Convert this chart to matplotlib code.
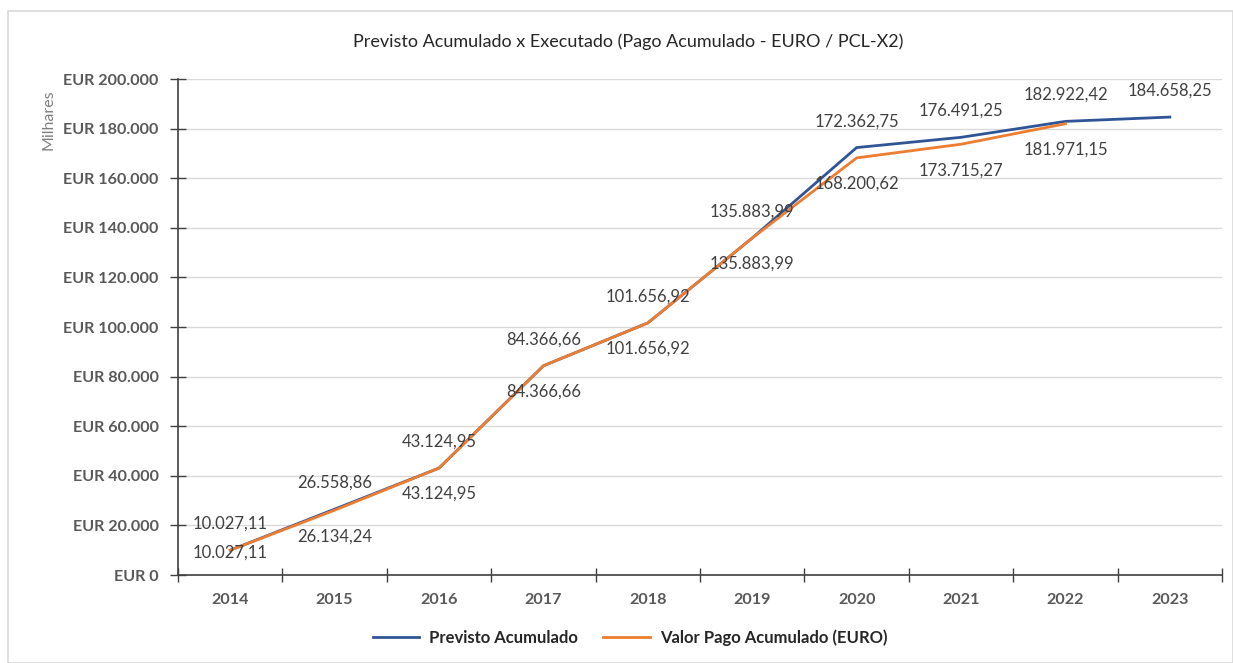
import matplotlib.pyplot as plt
import matplotlib.patches as mpatches
from matplotlib.ticker import FuncFormatter, MultipleLocator
import numpy as np

plt.rcParams['font.family'] = ['Lato', 'DejaVu Sans']

years = ['2014', '2015', '2016', '2017', '2018', '2019', '2020', '2021', '2022', '2023']
previsto = [10027.11, 26558.86, 43124.95, 84366.66, 101656.92, 135883.99,
            172362.75, 176491.25, 182922.42, 184658.25]
pago = [10027.11, 26134.24, 43124.95, 84366.66, 101656.92, 135883.99,
        168200.62, 173715.27, 181971.15]

blue = '#2F5597'
orange = '#ED7D31'
label_col = '#404040'
tick_col = '#595959'


def br(v, dec=2):
    # portuguese number format: 1.234,56
    s = f'{v:,.{dec}f}'
    return s.replace(',', 'X').replace('.', ',').replace('X', '.')


fig = plt.figure(figsize=(12.33, 6.63), dpi=100)
ax = fig.add_axes([0.1444, 0.1327, 0.8467, 0.7481])

# chart area border
fig.patches.append(mpatches.Rectangle((8 / 1233, 0), 1 - 8 / 1233, 1 - 11 / 663,
                                      transform=fig.transFigure, fill=False,
                                      edgecolor='#D9D9D9', linewidth=1.2))

x_prev = np.arange(len(previsto))
x_pago = np.arange(len(pago))
ax.plot(x_prev, previsto, color=blue, lw=2, label='Previsto Acumulado', zorder=3)
ax.plot(x_pago, pago, color=orange, lw=2, label='Valor Pago Acumulado (EURO)', zorder=4)

ax.set_xlim(-0.5, len(years) - 0.5)
ax.set_ylim(0, 200000)

# labels 26px above / below the point, kept inside the plot area
ypix = 663 * 0.7481 / 200000  # pixels per unit
for x, v in zip(x_prev, previsto):
    ax.annotate(br(v), (x, v), xytext=(0, 19), textcoords='offset points',
                ha='center', va='center', fontsize=12, color=label_col, zorder=5)
for x, v in zip(x_pago, pago):
    off = min(26, v * ypix - 22)
    ax.annotate(br(v), (x, v), xytext=(0, -off * 0.72), textcoords='offset points',
                ha='center', va='center', fontsize=12, color=label_col, zorder=5)

ax.yaxis.set_major_locator(MultipleLocator(20000))
ax.yaxis.set_major_formatter(FuncFormatter(lambda v, p: 'EUR ' + br(v, 0)))
ax.set_xticks(np.arange(len(years)))
ax.set_xticklabels(years)
ax.set_xticks(np.arange(-0.5, len(years)), minor=True)
ax.tick_params(axis='x', which='major', length=0, pad=13)
ax.tick_params(axis='x', which='minor', direction='inout', length=10, width=1, color='#404040')
ax.tick_params(axis='y', direction='inout', length=12, width=1, color='#404040', pad=8)
for lab in ax.get_xticklabels() + ax.get_yticklabels():
    lab.set_fontweight('bold')
    lab.set_color(tick_col)
    lab.set_fontsize(11.6)

ax.grid(axis='y', color='#D9D9D9', lw=1)
ax.set_axisbelow(True)
for s in ['top', 'right']:
    ax.spines[s].set_visible(False)
for s in ['left', 'bottom']:
    ax.spines[s].set_color('#404040')
    ax.spines[s].set_linewidth(1.2)

fig.text(48 / 1233, 1 - 120 / 663, 'Milhares', rotation=90, ha='center', va='center',
         fontsize=11.5, color='#808080')
fig.text(628 / 1233, 1 - 42 / 663, 'Previsto Acumulado x Executado (Pago Acumulado - EURO / PCL-X2)',
         ha='center', va='center', fontsize=13, color='#262626')

leg = fig.legend(loc='center', bbox_to_anchor=(630 / 1233, 1 - 638 / 663), ncol=2,
                 frameon=False, handlelength=2.8, handletextpad=0.6, columnspacing=1.5,
                 prop={'size': 12, 'weight': 'bold'})
for t in leg.get_texts():
    t.set_color('#262626')

fig.savefig('out.png', dpi=100)
